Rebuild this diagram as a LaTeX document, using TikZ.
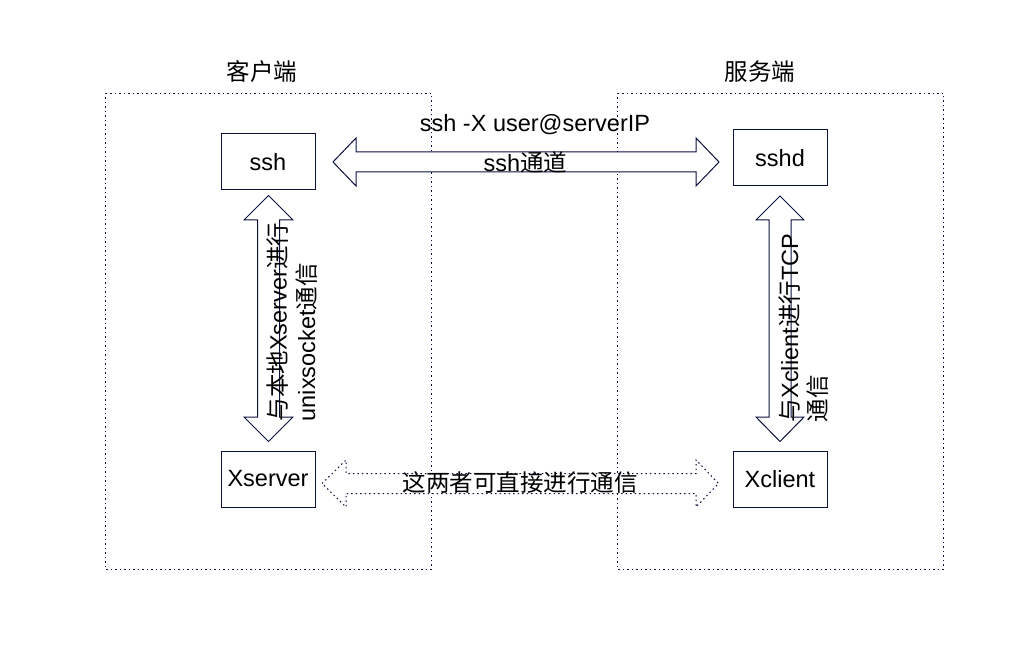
\documentclass[tikz,border=0pt]{standalone}
\usepackage{fontspec}
\setmainfont{Liberation Sans}
\newfontfamily\cjk{Noto Sans CJK SC}
\definecolor{navy}{HTML}{0B1240}
\begin{document}
\begin{tikzpicture}[x=1pt,y=-1pt,
  every node/.style={font=\fontsize{23.5}{28.5}\selectfont, inner sep=0pt},
  box/.style={draw=navy, line width=1pt, minimum width=94pt, minimum height=56pt},
  group/.style={draw=navy, line width=0.9pt, dash pattern=on 1.5pt off 3pt},
  blockarrow/.style={draw=navy, line width=1pt, fill=white, line join=miter},
  dotarrow/.style={draw=navy, line width=1pt, dash pattern=on 1.5pt off 3pt, fill=white}]
\useasboundingbox (0,0) rectangle (1022,660);
% groups
\draw[group] (105,93) rectangle (431,569);
\draw[group] (617,93) rectangle (943,569);
\node (lblc) at (262,72) {\cjk 客户端};
\node (lbls) at (760,72) {\cjk 服务端};
% boxes
\node[box] (ssh) at (268,162) {ssh};
\node[box] (sshd) at (780,158) {sshd};
\node[box] (xserver) at (268,479) {Xserver};
\node[box] (xclient) at (780,479) {Xclient};
% horizontal ssh tunnel arrow
\draw[blockarrow] (333,162) -- (356,138) -- (356,152) -- (696,152) -- (696,138) -- (719,162)
  -- (696,186) -- (696,172) -- (356,172) -- (356,186) -- cycle;
% left vertical arrow
\draw[blockarrow] (268.5,195.5) -- (244,220) -- (257.5,220) -- (257.5,417) -- (244,417) -- (268.5,441.5)
  -- (293,417) -- (279.5,417) -- (279.5,220) -- (293,220) -- cycle;
% right vertical arrow
\draw[blockarrow] (780,196) -- (756,220) -- (769,220) -- (769,417) -- (756,417) -- (780,441.5)
  -- (804,417) -- (791,417) -- (791,220) -- (804,220) -- cycle;
% dotted arrow
\draw[dotarrow] (322,483.5) -- (346,460) -- (346,473.5) -- (696,473.5) -- (696,460) -- (718.5,483.5)
  -- (696,507) -- (696,493.5) -- (346,493.5) -- (346,507) -- cycle;
% labels
\node (cmd) at (535,125) {ssh -X user@serverIP};
\node (tun) at (525.5,162) {ssh{\cjk 通道}};
\node[rotate=90, align=left] (ltxt) at (292,322) {{\cjk 与本地}Xserver{\cjk 进行}\\unixsocket{\cjk 通信}};
\node[rotate=90, align=left] (rtxt) at (803.5,328) {{\cjk 与}Xclient{\cjk 进行}TCP\\{\cjk 通信}};
\node (direct) at (520,483) {\cjk 这两者可直接进行通信};
\end{tikzpicture}
\end{document}
